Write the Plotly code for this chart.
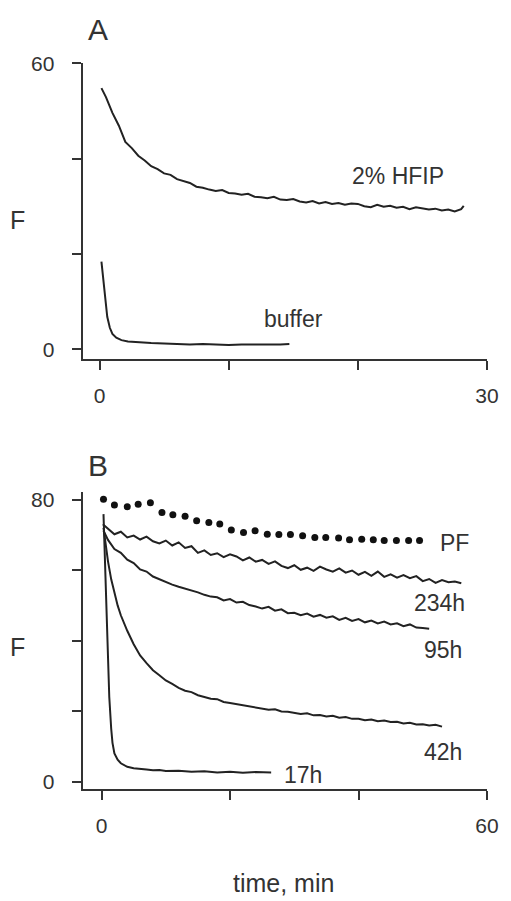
import plotly.graph_objects as go

W, H = 511, 901

# ---------------- Panel A data ----------------
t_hfip = [0.15, 0.5, 1.0, 1.5, 2.0, 2.5, 3.0, 3.5, 4.0, 4.5,
          5.0, 5.5, 6.0, 6.5, 7.0, 7.5, 8.0, 8.5, 9.0, 9.5,
          10.0, 10.5, 11.0, 11.5, 12.0, 12.5, 13.0, 13.5, 14.0, 14.5,
          15.0, 15.5, 16.0, 16.5, 17.0, 17.5, 18.0, 18.5, 19.0, 19.5,
          20.0, 20.5, 21.0, 21.5, 22.0, 22.5, 23.0, 23.5, 24.0, 24.5,
          25.0, 25.5, 26.0, 26.5, 27.0, 27.5, 28.0, 28.2]
f_hfip = [54.8, 52.9, 49.6, 46.9, 43.5, 42.2, 40.6, 39.6, 38.4, 37.8,
          36.9, 36.6, 35.7, 35.3, 34.9, 34.1, 33.9, 33.5, 33.2, 33.4,
          32.8, 32.7, 32.4, 32.6, 32.0, 31.9, 31.7, 32.0, 31.4, 31.3,
          31.5, 31.0, 30.8, 31.1, 30.6, 30.9, 30.5, 30.7, 30.3, 30.6,
          30.5, 30.0, 29.8, 30.3, 29.9, 30.1, 29.7, 29.9, 29.4, 29.8,
          29.6, 29.3, 29.5, 29.1, 29.3, 28.9, 29.4, 30.1]

t_buffer = [0.15, 0.3, 0.45, 0.6, 0.8, 1.0, 1.3, 1.7, 2.2, 3.0, 4.0,
            5.0, 6.0, 7.0, 8.0, 9.0, 10.0, 11.0, 12.0, 13.0, 14.0, 14.7]
f_buffer = [18.4, 14.5, 10.5, 6.8, 4.5, 3.2, 2.4, 1.9, 1.6, 1.4, 1.3,
            1.2, 1.1, 1.0, 1.1, 1.0, 0.9, 1.0, 1.0, 0.9, 1.0, 1.1]

# ---------------- Panel B data ----------------
t_pf = [0.3, 2.0, 4.0, 5.7, 7.6, 9.4, 11.1, 13.0, 14.8, 16.7,
        18.4, 20.2, 22.1, 23.9, 25.8, 27.6, 29.4, 31.3, 33.2, 34.9,
        36.9, 38.6, 40.5, 42.3, 44.0, 45.9, 47.8, 49.5]
f_pf = [80.1, 78.5, 78.0, 78.7, 79.1, 76.4, 75.7, 75.3, 74.0, 73.5,
        73.1, 71.4, 70.7, 71.2, 70.2, 70.1, 70.1, 69.8, 69.3, 69.3,
        69.1, 68.6, 68.8, 68.6, 68.4, 68.4, 68.4, 68.4]

t_234 = [0.2, 1, 2, 3, 4, 5, 6, 7, 8, 9,
         10, 11, 12, 13, 14, 15, 16, 17, 18, 19,
         20, 21, 22, 23, 24, 25, 26, 27, 28, 29,
         30, 31, 32, 33, 34, 35, 36, 37, 38, 39,
         40, 41, 42, 43, 44, 45, 46, 47, 48, 49,
         50, 51, 52, 53, 54, 55, 56]
f_234 = [73.0, 71.8, 70.2, 70.9, 69.3, 69.8, 68.7, 69.5, 68.2, 67.6,
         68.4, 67.0, 67.9, 66.3, 66.8, 64.9, 65.6, 64.3, 64.8, 63.7,
         64.5, 63.9, 62.8, 63.6, 62.4, 62.9, 61.8, 62.5, 61.2, 60.6,
         61.4, 60.1, 60.7, 59.8, 61.0, 60.2, 59.6, 60.5, 59.3, 59.9,
         58.7, 59.5, 58.4, 59.6, 58.1, 58.8, 57.9, 58.6, 57.7, 58.3,
         56.9, 57.5, 56.4, 57.2, 56.6, 56.8, 56.3]

t_95 = [0.3, 1, 2, 3, 4, 5, 6, 7, 8, 9,
        10, 11, 12, 13, 14, 15, 16, 17, 18, 19,
        20, 21, 22, 23, 24, 25, 26, 27, 28, 29,
        30, 31, 32, 33, 34, 35, 36, 37, 38, 39,
        40, 41, 42, 43, 44, 45, 46, 47, 48, 49,
        50, 51]
f_95 = [71.2, 68.6, 66.0, 64.9, 63.0, 62.0, 60.2, 59.6, 58.2, 57.4,
        56.6, 55.9, 55.3, 54.8, 54.2, 53.7, 53.0, 52.5, 52.3, 51.4,
        51.8, 50.8, 51.0, 50.1, 49.7, 49.1, 49.6, 48.5, 48.9, 47.8,
        47.9, 47.2, 47.7, 46.8, 47.3, 46.5, 46.9, 45.9, 46.5, 45.6,
        46.1, 45.2, 45.7, 44.9, 45.4, 44.6, 44.9, 44.1, 44.6, 43.7,
        43.6, 43.4]

t_42 = [0.3, 0.6, 1.0, 1.5, 2.0, 2.5, 3.0, 3.5, 4.0, 5,
        6, 7, 8, 9, 10, 11, 12, 13, 14, 15,
        16, 17, 18, 19, 20, 21, 22, 23, 24, 25,
        26, 27, 28, 29, 30, 31, 32, 33, 34, 35,
        36, 37, 38, 39, 40, 41, 42, 43, 44, 45,
        46, 47, 48, 49, 50, 51, 52, 53]
f_42 = [72.0, 67.5, 62.5, 57.4, 53.4, 50.0, 47.2, 44.8, 42.8, 39.0,
        35.8, 33.6, 31.6, 30.2, 28.7, 27.7, 26.6, 25.8, 25.4, 24.5,
        24.1, 23.5, 23.4, 22.6, 22.3, 22.0, 21.7, 21.4, 21.0, 20.9,
        20.4, 20.5, 19.9, 19.8, 19.5, 19.2, 19.4, 18.8, 18.9, 18.5,
        18.7, 18.1, 18.3, 17.8, 17.8, 17.4, 17.6, 17.1, 17.3, 16.9,
        17.0, 16.5, 16.7, 16.2, 16.3, 15.9, 16.1, 15.6]

t_17 = [0.3, 0.5, 0.7, 0.9, 1.2, 1.5, 1.7, 2.0, 2.5, 3.0,
        3.5, 4.0, 5, 6, 7, 8, 9, 10, 12, 14,
        16, 18, 20, 22, 24, 26.4]
f_17 = [75.9, 63.0, 52.0, 38.0, 24.0, 15.0, 11.0, 8.0, 6.2, 5.2,
        4.6, 4.2, 3.8, 3.5, 3.4, 3.2, 3.3, 3.0, 3.1, 2.8,
        2.9, 2.6, 2.8, 2.5, 2.7, 2.6]

# tick definitions
xa_ticks = [0, 10, 20, 30]
xa_text = ["0", "", "", "30"]
ya_ticks = [0, 20, 40, 60]
ya_text = ["0", "", "", "60"]
xb_ticks = [0, 20, 40, 60]
xb_text = ["0", "", "", "60"]
yb_ticks = [0, 20, 40, 60, 80]
yb_text = ["0", "", "", "", "80"]

FONT = "Arial, Liberation Sans, Helvetica, sans-serif"
TXT = "#333333"
LINE = "#222222"

fig = go.Figure()

line_style = dict(color=LINE, width=2)
fig.add_trace(go.Scatter(x=t_hfip, y=f_hfip, mode="lines", line=line_style, xaxis="x", yaxis="y"))
fig.add_trace(go.Scatter(x=t_buffer, y=f_buffer, mode="lines", line=line_style, xaxis="x", yaxis="y"))

fig.add_trace(go.Scatter(x=t_pf, y=f_pf, mode="markers", marker=dict(color="#111111", size=7),
                         xaxis="x2", yaxis="y2"))
for tt, ff in [(t_234, f_234), (t_95, f_95), (t_42, f_42), (t_17, f_17)]:
    fig.add_trace(go.Scatter(x=tt, y=ff, mode="lines", line=line_style, xaxis="x2", yaxis="y2"))


def px2x(px):
    return px / W


def px2y(py):
    return 1 - py / H


axis_common = dict(showline=True, linecolor="#333333", linewidth=2, ticks="outside",
                   ticklen=9, tickwidth=2, tickcolor="#333333", showgrid=False,
                   zeroline=False, tickmode="array",
                   tickfont=dict(family=FONT, size=21, color=TXT))

fig.update_layout(
    width=W, height=H, margin=dict(l=0, r=0, t=0, b=0),
    paper_bgcolor="white", plot_bgcolor="white", showlegend=False,
    xaxis=dict(domain=[px2x(84.4), px2x(498)], range=[-1.31, 30.023], anchor="y",
               tickvals=xa_ticks, ticktext=xa_text, ticklabelstandoff=8, **axis_common),
    yaxis=dict(domain=[px2y(353.4), px2y(52.2)], range=[-2.08, 60.01], anchor="x",
               tickvals=ya_ticks, ticktext=ya_text, ticklabelstandoff=13, **axis_common),
    xaxis2=dict(domain=[px2x(84.4), px2x(498)], range=[-2.955, 60.046], anchor="y2",
                tickvals=xb_ticks, ticktext=xb_text, ticklabelstandoff=8, **axis_common),
    yaxis2=dict(domain=[px2y(790.6), px2y(488.3)], range=[-1.98, 82.29], anchor="x2",
                tickvals=yb_ticks, ticktext=yb_text, ticklabelstandoff=13, **axis_common),
)


def label(text, cx, cy, size=23):
    fig.add_annotation(text=text, x=px2x(cx), y=px2y(cy), xref="paper", yref="paper",
                       showarrow=False, xanchor="center", yanchor="middle",
                       font=dict(family=FONT, size=size, color=TXT))


label("A", 99.7, 17.7, 30)
label("B", 99.7, 462.0, 30)
label("F", 18.3, 211.5, 25)
label("F", 18.3, 646.6, 25)
label("2% HFIP", 406.9, 166.8)
label("buffer", 300.1, 312.9)
label("PF", 464.9, 541.1)
label("234h", 449.6, 601.9)
label("95h", 452.7, 649.6)
label("42h", 452.7, 753.0)
label("17h", 309.3, 776.4)
label("time, min", 289.9, 886.5, 25)

post = (
    "var gd=document.getElementById('{plot_id}');"
    "var de=document.documentElement;de.style.margin='0';de.style.padding='0';de.style.overflow='hidden';"
    "document.body.style.margin='0';document.body.style.padding='0';document.body.style.overflow='hidden';"
    "gd.style.position='fixed';gd.style.left='0px';gd.style.top='0px';"
)

fig.write_html("out.html", config={"displayModeBar": False}, post_script=post)
